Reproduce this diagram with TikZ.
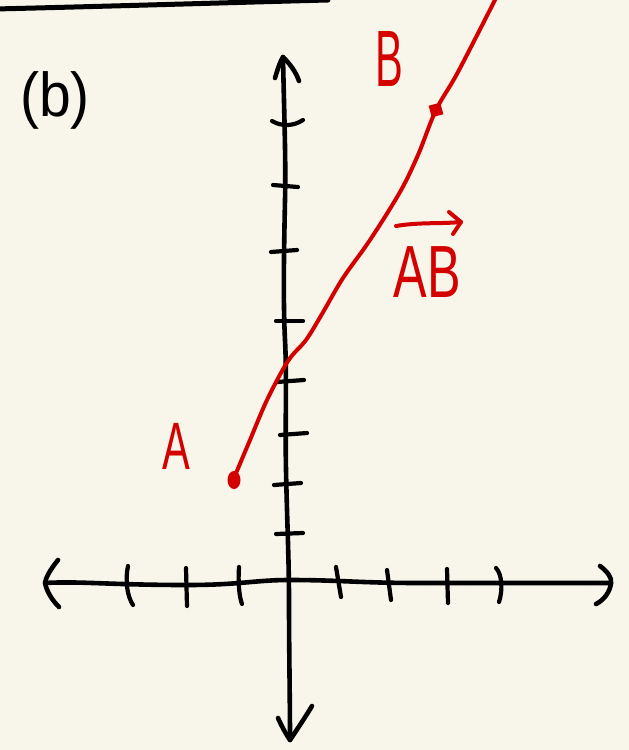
\documentclass[tikz,border=0pt]{standalone}
\usepackage{fontspec}
\usetikzlibrary{shapes.geometric}
\setmainfont{Liberation Sans}
\definecolor{paper}{RGB}{248,246,234}
\definecolor{pen}{RGB}{212,0,0}
\tikzset{
  ink/.style={line width=4.6pt, black, line cap=round, line join=round},
  tick/.style={line width=4.2pt, black, line cap=round},
  redline/.style={line width=4pt, pen, line cap=round, line join=round},
  redtext/.style={text=pen, inner sep=0pt},
  blacktext/.style={text=black, inner sep=0pt},
}
\begin{document}
\begin{tikzpicture}[x=1pt,y=-1pt]
\useasboundingbox (0,0) rectangle (629,750);
\fill[paper] (0,0) rectangle (629,750);

% top rule
\draw[ink, line width=5pt] (-5,9) .. controls (120,6) and (250,2) .. (328,0);

% label (b)
\coordinate (cb) at (55,100);
\node[blacktext, font=\fontsize{62}{70}\selectfont, xscale=0.92] (lblb) at (cb) {(b)};

% y axis
\coordinate (ytop) at (283,57);
\coordinate (ybot) at (290,740);
\draw[ink] (ytop) .. controls (284,110) and (286,160) .. (285,200)
  .. controls (284,250) and (283,300) .. (285,340)
  .. controls (287,380) and (285,420) .. (286,470)
  .. controls (287,520) and (289,560) .. (289,600)
  .. controls (289,650) and (290,700) .. (ybot);
\draw[ink] (275,78) .. controls (278,68) and (280,62) .. (ytop) .. controls (290,64) and (296,72) .. (299,81);
\draw[ink] (278,718) .. controls (282,727) and (286,734) .. (ybot) .. controls (298,728) and (306,716) .. (312,706);

% y ticks
\draw[tick] (272,121) .. controls (282,127) and (294,126) .. (303,120);
\draw[tick] (273,185) -- (298,187);
\draw[tick] (271,252) -- (297,250);
\draw[tick] (276,321) -- (303,321);
\draw[tick] (277,382) -- (304,380);
\draw[tick] (280,435) -- (307,433);
\draw[tick] (274,485) -- (301,483);
\draw[tick] (276,534) -- (303,533);

% x axis
\coordinate (xleft) at (45,583);
\coordinate (xright) at (611,583);
\draw[ink] (xleft) .. controls (80,581) and (110,585) .. (187,585)
  .. controls (240,585) and (255,580) .. (289,580)
  .. controls (340,580) and (360,583) .. (420,583)
  .. controls (500,583) and (560,583) .. (xright);
\draw[ink] (58,560) .. controls (50,570) and (46,577) .. (xleft) .. controls (47,592) and (52,600) .. (59,607);
\draw[ink] (600,566) .. controls (608,572) and (612,578) .. (xright) .. controls (610,592) and (604,600) .. (596,604);

% x ticks
\draw[tick] (128,566) .. controls (125,580) and (127,596) .. (133,605);
\draw[tick] (186,568) -- (187,606);
\draw[tick] (239,567) .. controls (238,582) and (239,596) .. (242,604);
\draw[tick] (336,567) -- (341,597);
\draw[tick] (387,570) -- (391,600);
\draw[tick] (447,569) -- (448,603);
\draw[tick] (496,568) .. controls (502,574) and (503,590) .. (499,602);

% points A and B
\node[fill=pen, ellipse, minimum width=13pt, minimum height=18pt, inner sep=0pt] (A) at (234,480) {};
\node[fill=pen, minimum size=12pt, inner sep=0pt, rotate=15] (B) at (436,110) {};

% vector AB
\draw[redline] plot[smooth, tension=0.55] coordinates {(234,478) (250,440) (267,400) (288,361) (306,340) (322,314) (343,278) (370,240) (400,192) (418,155) (436,110) (458,72) (497,-4)};

% labels
\coordinate (cA) at (176,446);
\node[redtext, font=\fontsize{67}{70}\selectfont, xscale=0.62] (lblA) at (cA) {A};
\coordinate (cB) at (389,59);
\node[redtext, font=\fontsize{80}{84}\selectfont, xscale=0.52] (lblB) at (cB) {B};
\coordinate (cAB) at (427,272);
\node[redtext, font=\fontsize{74}{78}\selectfont, xscale=0.68] (lblAB) at (cAB) {AB};
\coordinate (vs) at (396,226);
\coordinate (ve) at (461,222);
\draw[redline] (vs) .. controls (420,222) and (440,224) .. (ve);
\draw[redline] (449,212) -- (ve) -- (453,234);
\end{tikzpicture}
\end{document}
